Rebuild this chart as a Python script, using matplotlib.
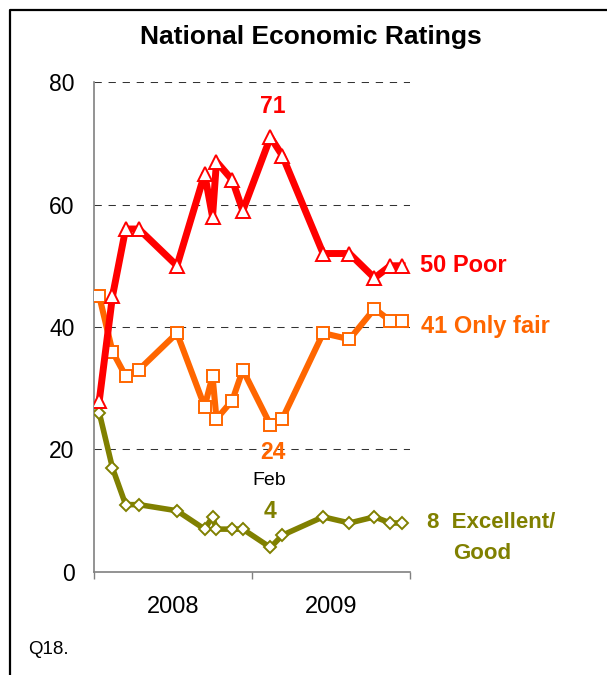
import matplotlib
matplotlib.use("Agg")
import matplotlib.pyplot as plt
from matplotlib.lines import Line2D

plt.rcParams['font.family'] = ['Liberation Sans', 'DejaVu Sans']

# survey dates, in months since Jan 2008
months = [0.4, 1.4, 2.4, 3.4, 6.3, 8.4, 9.0, 9.3, 10.5, 11.3,
          13.4, 14.3, 17.4, 19.4, 21.3, 22.5, 23.4]
poor = [28, 45, 56, 56, 50, 65, 58, 67, 64, 59, 71, 68, 52, 52, 48, 50, 50]
only_fair = [45, 36, 32, 33, 39, 27, 32, 25, 28, 33, 24, 25, 39, 38, 43, 41, 41]
excellent_good = [26, 17, 11, 11, 10, 7, 9, 7, 7, 7, 4, 6, 9, 8, 9, 8, 8]
year_labels = ['2008', '2009']

red = '#FF0000'
orange = '#FF6600'
olive = '#808000'

fig = plt.figure(figsize=(6.07, 6.75), dpi=100)
ax = fig.add_axes([0.1549, 0.1526, 0.5206, 0.7259])

# Plot the three series, red on top
ax.plot(months, excellent_good, color=olive, lw=4.0, marker='D', ms=6,
        mfc='white', mec=olive, mew=1.4, zorder=3)
ax.plot(months, only_fair, color=orange, lw=4.4, marker='s', ms=8,
        mfc='white', mec=orange, mew=1.4, zorder=4)
ax.plot(months, poor, color=red, lw=5.0, marker='^', ms=9.5,
        mfc='white', mec=red, mew=1.4, zorder=5)

# Axis setup
ax.set_xlim(0, 24)
ax.set_ylim(0, 80)
ax.set_yticks([0, 20, 40, 60, 80])
ax.set_xticks([0, 12, 24])
ax.set_xticklabels([])
ax.set_xticks([6, 18], minor=True)
ax.set_xticklabels(year_labels, minor=True)
ax.tick_params(axis='y', length=0, pad=14, labelsize=16.5)
ax.tick_params(axis='x', which='major', direction='out', length=5,
               color='#808080', width=1)
ax.tick_params(axis='x', which='minor', length=0, pad=17, labelsize=17)
for s in ['top', 'right']:
    ax.spines[s].set_visible(False)
for s in ['left', 'bottom']:
    ax.spines[s].set_color('#808080')
    ax.spines[s].set_linewidth(1.2)
for yv in [20, 40, 60, 80]:
    ax.axhline(yv, color='#333333', lw=0.75, ls=(0, (7, 6.5)), zorder=1)

# Title and frame
fig.text(0.512, 1 - 37 / 675, 'National Economic Ratings', ha='center', va='center',
         fontsize=19, fontweight='bold')
fig.add_artist(Line2D([10 / 607, 10 / 607, 1], [0, 1 - 10 / 675, 1 - 10 / 675],
                      transform=fig.transFigure, color='black', lw=1.6))
fig.text(28 / 607, 1 - 649 / 675, 'Q18.', ha='left', va='center', fontsize=13.5)

# Value labels
bold = dict(fontweight='bold', textcoords='offset points', va='center')
i_max = poor.index(max(poor))
ax.annotate(str(poor[i_max]), xy=(months[i_max], poor[i_max]), xytext=(1.5, 22),
            color=red, ha='center', fontsize=16.5, **bold)
i_min = only_fair.index(min(only_fair))
ax.annotate(str(only_fair[i_min]), xy=(months[i_min], only_fair[i_min]),
            xytext=(2, -20), color=orange, ha='center', fontsize=16.5, **bold)
i_eg = excellent_good.index(min(excellent_good))
ax.annotate(str(excellent_good[i_eg]), xy=(months[i_eg], excellent_good[i_eg]),
            xytext=(0, 26), color=olive, ha='center', fontsize=16.5, **bold)
ax.annotate('Feb', xy=(months[i_eg], excellent_good[i_eg]), xytext=(-1, 48),
            textcoords='offset points', ha='center', va='center', fontsize=14)

# End labels
ax.annotate(f'{poor[-1]} Poor', xy=(months[-1], poor[-1]), xytext=(13, 0),
            color=red, ha='left', annotation_clip=False, fontsize=17, **bold)
ax.annotate(f'{only_fair[-1]} Only fair', xy=(months[-1], only_fair[-1]),
            xytext=(13.5, -4), color=orange, ha='left', annotation_clip=False,
            fontsize=17, **bold)
ax.annotate(f'{excellent_good[-1]}  Excellent/', xy=(months[-1], excellent_good[-1]),
            xytext=(18, 0), color=olive, ha='left', annotation_clip=False,
            fontsize=16, **bold)
ax.annotate('Good', xy=(months[-1], excellent_good[-1]), xytext=(37, -22),
            color=olive, ha='left', annotation_clip=False, fontsize=16, **bold)

fig.savefig('out.png', dpi=100)
